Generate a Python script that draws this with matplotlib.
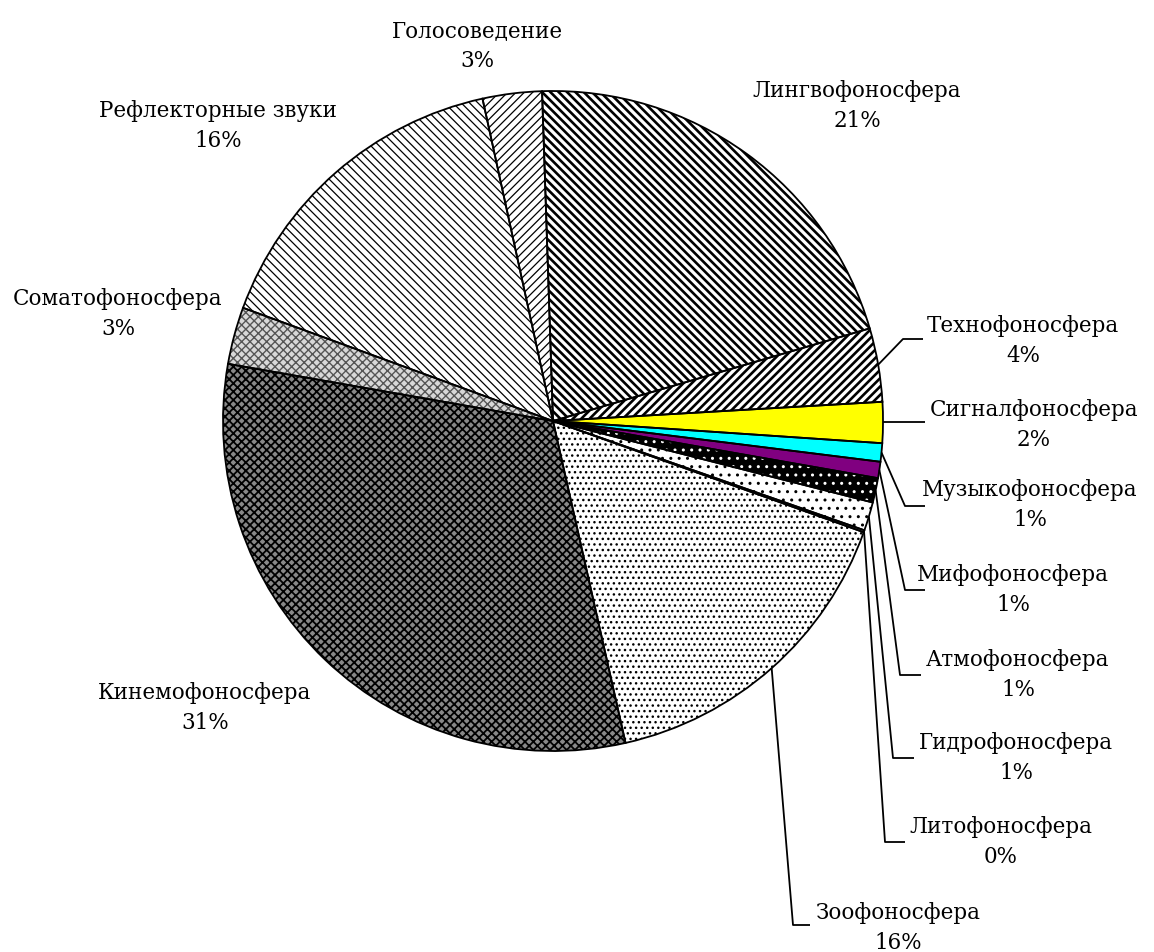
import matplotlib
matplotlib.use("Agg")
import matplotlib.pyplot as plt
import numpy as np

# ---- data (clockwise from 12 o'clock) ----
names = ["Лингвофоносфера", "Технофоносфера", "Сигналфоносфера", "Музыкофоносфера",
         "Мифофоносфера", "Атмофоносфера", "Гидрофоносфера", "Литофоносфера",
         "Зоофоносфера", "Кинемофоносфера", "Соматофоносфера", "Рефлекторные звуки",
         "Голосоведение"]
values = [21.0, 3.6, 2.0, 0.9, 0.8, 1.2, 1.4, 0.1, 16.0, 31.3, 2.8, 16.0, 2.9]

# ---- styles ----
faces = ["white", "white", "#ffff00", "#00ffff", "#800080", "black", "white", "white",
         "white", "#888888", "#d8d8d8", "white", "white"]
hatches = ["\\\\\\\\", "////", None, None, None, "..", "..", None,
           "...", "xxxx", "xxxx", "\\\\\\\\", "////"]
hcolors = ["black", "black", "black", "black", "black", "white", "black", "black",
           "black", "black", "#555555", "black", "black"]
hlw = [1.9, 1.9, 1, 1, 1, 1, 1, 1, 1, 1.3, 1.0, 0.9, 0.9]

W, H = 1154, 952
fig = plt.figure(figsize=(W / 100, H / 100), dpi=100)
ax = fig.add_axes([0, 0, 1, 1])

cx, cy, R = 553, H - 421, 330
start = 91.9

wedges, _ = ax.pie(values, center=(cx, cy), radius=R, startangle=start,
                   counterclock=False, wedgeprops=dict(linewidth=0))
for w, fc, hc, hh, lw in zip(wedges, faces, hcolors, hatches, hlw):
    w.set_facecolor(fc)
    w.set_edgecolor(hc)
    w.set_linewidth(0)
    if hh:
        w.set_hatch(hh)
        if hasattr(w, "set_hatch_linewidth"):
            w.set_hatch_linewidth(lw)

# outlines
outl, _ = ax.pie(values, center=(cx, cy), radius=R, startangle=start,
                 counterclock=False,
                 wedgeprops=dict(fill=False, edgecolor="black", linewidth=1.3))

total = sum(values)
pct = [f"{v / total * 100:.0f}%" for v in values]

# label layout (pixel coordinates, y from top)
lab_xy = [(857, 106), (1023, 341), (1034, 425), (1030, 505), (1013, 590),
          (1018, 675), (1016, 758), (1001, 842), (898, 928), (205, 708),
          (118, 314), (218, 126), (477, 46)]
# leader elbows (None = no leader; elbow y None = same height as slice point)
elbow = [None, (903, 339), (905, None), (905, 506), (905, 590), (900, 675),
         (893, 758), (885, 842), (793, 925), None, None, None, None]
lead_end = [None, 923, 925, 925, 925, 921, 914, 905, 810, None, None, None, None]

font = dict(family="DejaVu Serif", fontsize=15.5)
for i, (n, p) in enumerate(zip(names, pct)):
    x, y = lab_xy[i]
    ax.text(x, H - y, f"{n}\n{p}", ha="center", va="center",
            multialignment="center", linespacing=1.5, **font)
    if elbow[i] is not None:
        w = wedges[i]
        mid = np.deg2rad((w.theta1 + w.theta2) / 2)
        px, py = cx + R * np.cos(mid), cy + R * np.sin(mid)
        ex, ey = elbow[i]
        ey = py if ey is None else H - ey
        ax.plot([px, ex, lead_end[i]], [py, ey, ey], color="black",
                lw=1.3, solid_capstyle="butt")

ax.set_xlim(0, W)
ax.set_ylim(0, H)
ax.set_aspect("equal")
ax.axis("off")
fig.savefig("out.png", dpi=100, facecolor="white")
